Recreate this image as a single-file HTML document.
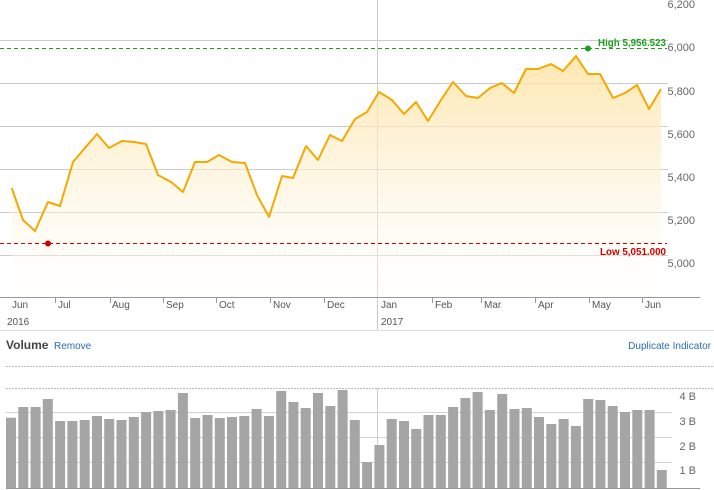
<!DOCTYPE html>
<html><head><style>body{margin:0;background:#fff}svg{display:block;font-family:"Liberation Sans",sans-serif}</style></head><body>
<svg width="714" height="490" viewBox="0 0 714 490">
<defs><linearGradient id="g" x1="0" y1="0" x2="0" y2="1"><stop offset="0" stop-color="#fde2a0" stop-opacity="0.85"/><stop offset="1" stop-color="#fff" stop-opacity="0.3"/></linearGradient></defs>
<g stroke="#ccc" stroke-width="1">
<line x1="0" y1="40.5" x2="668" y2="40.5"/><line x1="0" y1="83.5" x2="668" y2="83.5"/><line x1="0" y1="126.5" x2="668" y2="126.5"/><line x1="0" y1="169.5" x2="668" y2="169.5"/><line x1="0" y1="212.5" x2="668" y2="212.5"/><line x1="0" y1="255.5" x2="668" y2="255.5"/>
</g>
<line x1="377.5" y1="0" x2="377.5" y2="330" stroke="#ccc"/>
<polygon fill="url(#g)" points="11.7,188 23,220 35,231 48,202 60,206 73,162 84,149 97,134 109,148 122,141 134,142 146,144 158,175 171,182 183,192 195,162 207,162 219,155 232,162 245,163 257,195 269,217 282,176 293,178 306,146 318,160 330,135 342,141 355,119 367,112 379,92 392,100 404,114 416,102 428,121 441,100 453,82 466,96 478,98 490,88 502,83 514,93 526,69 538,69 551,64 563,71 576,56 588,74 600,74 613,98 625,93 637,85 649,109 661,89 661,297 11.7,297"/>
<polyline fill="none" stroke="#f5a800" stroke-width="2" stroke-linejoin="round" points="11.7,188 23,220 35,231 48,202 60,206 73,162 84,149 97,134 109,148 122,141 134,142 146,144 158,175 171,182 183,192 195,162 207,162 219,155 232,162 245,163 257,195 269,217 282,176 293,178 306,146 318,160 330,135 342,141 355,119 367,112 379,92 392,100 404,114 416,102 428,121 441,100 453,82 466,96 478,98 490,88 502,83 514,93 526,69 538,69 551,64 563,71 576,56 588,74 600,74 613,98 625,93 637,85 649,109 661,89"/>
<line x1="0" y1="48.5" x2="667" y2="48.5" stroke="#1aa01a" stroke-dasharray="4,3"/>
<circle cx="588" cy="48.5" r="3" fill="#1aa01a"/>
<text x="598" y="46" fill="#1aa01a" font-size="10.5" font-weight="bold" textLength="68" lengthAdjust="spacingAndGlyphs">High 5,956.523</text>
<line x1="0" y1="243.5" x2="667" y2="243.5" stroke="#cc0000" stroke-dasharray="4,3"/>
<circle cx="48" cy="243.5" r="3" fill="#cc0000"/>
<text x="600" y="255" fill="#cc0000" font-size="10.5" font-weight="bold" textLength="66" lengthAdjust="spacingAndGlyphs">Low 5,051.000</text>
<g fill="#666" font-size="11" text-anchor="end">
<text x="695" y="8">6,200</text><text x="695" y="51">6,000</text><text x="695" y="95">5,800</text><text x="695" y="138">5,600</text><text x="695" y="181">5,400</text><text x="695" y="224">5,200</text><text x="695" y="267">5,000</text>
</g>
<line x1="0" y1="297.5" x2="700" y2="297.5" stroke="#999"/>
<g stroke="#999"><line x1="55.5" y1="298" x2="55.5" y2="303"/><line x1="110.5" y1="298" x2="110.5" y2="303"/><line x1="163.5" y1="298" x2="163.5" y2="303"/><line x1="216.5" y1="298" x2="216.5" y2="303"/><line x1="270.5" y1="298" x2="270.5" y2="303"/><line x1="324.5" y1="298" x2="324.5" y2="303"/><line x1="432.5" y1="298" x2="432.5" y2="303"/><line x1="481.5" y1="298" x2="481.5" y2="303"/><line x1="535.5" y1="298" x2="535.5" y2="303"/><line x1="589.5" y1="298" x2="589.5" y2="303"/><line x1="642.5" y1="298" x2="642.5" y2="303"/></g>
<g fill="#555" font-size="10">
<text x="12" y="308">Jun</text><text x="58" y="308">Jul</text><text x="112" y="308">Aug</text><text x="166" y="308">Sep</text><text x="219" y="308">Oct</text><text x="273" y="308">Nov</text><text x="327" y="308">Dec</text><text x="381" y="308">Jan</text><text x="435" y="308">Feb</text><text x="484" y="308">Mar</text><text x="538" y="308">Apr</text><text x="592" y="308">May</text><text x="645" y="308">Jun</text>
<text x="7" y="325">2016</text><text x="381" y="325">2017</text>
</g>
<line x1="0" y1="330.5" x2="714" y2="330.5" stroke="#ddd"/>
<text x="6" y="349" font-size="12" font-weight="bold" fill="#444">Volume</text>
<text x="54" y="349" font-size="10" fill="#2a6fb0">Remove</text>
<text x="711" y="349" font-size="10" fill="#2a6fb0" text-anchor="end">Duplicate Indicator</text>
<line x1="6" y1="366.5" x2="714" y2="366.5" stroke="#bbb" stroke-dasharray="2,1"/>
<line x1="6" y1="388.5" x2="714" y2="388.5" stroke="#bbb" stroke-dasharray="2,1"/>
<g stroke="#d4d4d4"><line x1="6" y1="412.5" x2="672" y2="412.5"/><line x1="6" y1="437.5" x2="672" y2="437.5"/><line x1="6" y1="462.5" x2="672" y2="462.5"/></g>
<line x1="377.5" y1="388" x2="377.5" y2="488" stroke="#ccc"/>
<g fill="#a5a5a5" id="bars"></g>
<line x1="6" y1="488.5" x2="700" y2="488.5" stroke="#999"/>
<g fill="#666" font-size="11" text-anchor="end"><text x="696" y="400">4 B</text><text x="696" y="425">3 B</text><text x="696" y="450">2 B</text><text x="696" y="474">1 B</text></g>
</svg>
<script>
var t=[417.7,407,407,399,421,421,420,416,419,420,417,412,411,410,393,418,415,418,417,416,409,416,391,402,408,393,406,390,420,462,445,419,421,429,415,415,407,398,392,410,394,409,408,417,424,419,426,399,400,406,412,410,410,470];
var g=document.getElementById('bars'),s='';
for(var i=0;i<t.length;i++){var x=6+i*12.28;s+='<rect x="'+x.toFixed(1)+'" y="'+t[i]+'" width="10" height="'+(488-t[i]).toFixed(1)+'"/>';}
g.innerHTML=s;
</script>
</body></html>
